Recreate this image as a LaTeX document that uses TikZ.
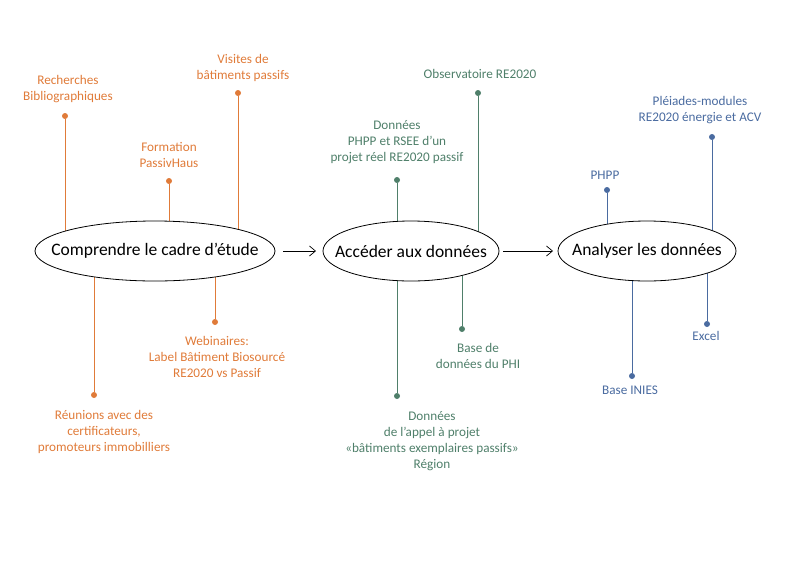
\documentclass[tikz,border=0pt]{standalone}
\usepackage{fontspec}
\setmainfont{Carlito}
\usetikzlibrary{backgrounds,arrows.meta}
\definecolor{orng}{HTML}{E07B39}
\definecolor{grn}{HTML}{4F7F6A}
\definecolor{blu}{HTML}{4A6BA0}
\begin{document}
\begin{tikzpicture}[x=1pt,y=-1pt,
  elt/.style={font=\fontsize{17.5}{20}\selectfont,inner sep=0pt},
  elp/.style={draw,fill=white,line width=0.8pt},
  arr/.style={-{Straight Barb[length=6pt,width=10pt]},line width=0.7pt},
  dot/.style={circle,fill=#1,inner sep=0pt,minimum size=6pt},
  lbl/.style={text=#1,align=center,font=\fontsize{13.2}{16}\selectfont},
  ln/.style={draw=#1,line width=0.7pt}]
\useasboundingbox (0,0) rectangle (792,560);
\coordinate (c1) at (155,251);
\coordinate (c2) at (411,251);
\coordinate (c3) at (647,251);
\path[elp] (c1) ellipse [x radius=120,y radius=30];
\path[elp] (c2) ellipse [x radius=88,y radius=30];
\path[elp] (c3) ellipse [x radius=89,y radius=30];
\node[elt] (e1) at (c1) {Comprendre le cadre d’étude};
\node[elt] (e2) at (c2) {Accéder aux données};
\node[elt] (e3) at (c3) {Analyser les données};
\coordinate (a1) at (283,251); \coordinate (b1) at (316,251);
\coordinate (a2) at (503,251); \coordinate (b2) at (553,251);
\draw[arr] (a1) -- (b1);
\draw[arr] (a2) -- (b2);
% orange
\node[dot=orng] (o1) at (65,116) {};
\node[lbl=orng] (t1) at (68,89) {Recherches\\Bibliographiques};
\node[dot=orng] (o2) at (169,181) {};
\node[lbl=orng] (t2) at (169,155) {Formation\\PassivHaus};
\node[dot=orng] (o3) at (238,93) {};
\node[lbl=orng] (t3) at (243,68) {Visites de\\bâtiments passifs};
\node[dot=orng] (o4) at (94,395) {};
\node[lbl=orng] (t4) at (104,432) {Réunions avec des\\certificateurs,\\promoteurs immobilliers};
\node[dot=orng] (o5) at (215,322) {};
\node[lbl=orng] (t5) at (217,357) {Webinaires:\\Label Bâtiment Biosourcé\\RE2020 vs Passif};
% green
\node[dot=grn] (g1) at (397,180) {};
\node[lbl=grn] (u1) at (397,142) {Données\\PHPP et RSEE d’un\\projet réel RE2020 passif};
\node[dot=grn] (g2) at (478,93) {};
\node[lbl=grn] (u2) at (480,74) {Observatoire RE2020};
\node[dot=grn] (g3) at (462,329) {};
\node[lbl=grn] (u3) at (478,356) {Base de\\données du PHI};
\node[dot=grn] (g4) at (397,396) {};
\node[lbl=grn] (u4) at (432,441) {Données\\de l’appel à projet\\«bâtiments exemplaires passifs»\\Région};
% blue
\node[dot=blu] (b1d) at (607,190) {};
\node[lbl=blu] (v1) at (605,175) {PHPP};
\node[dot=blu] (b2d) at (712,137) {};
\node[lbl=blu] (v2) at (700,110) {Pléiades-modules\\RE2020 énergie et ACV};
\node[dot=blu] (b3d) at (707,324) {};
\node[lbl=blu] (v3) at (706,336) {Excel};
\node[dot=blu] (b4d) at (632,376) {};
\node[lbl=blu] (v4) at (630,390) {Base INIES};
\begin{pgfonlayer}{background}
\foreach \d in {o1,o2,o3,o4,o5} \draw[ln=orng] (\d) -- (\d |- e1.center);
\foreach \d in {g1,g2,g3,g4} \draw[ln=grn] (\d) -- (\d |- e2.center);
\foreach \d in {b1d,b2d,b3d,b4d} \draw[ln=blu] (\d) -- (\d |- e3.center);
\end{pgfonlayer}
\end{tikzpicture}
\end{document}
